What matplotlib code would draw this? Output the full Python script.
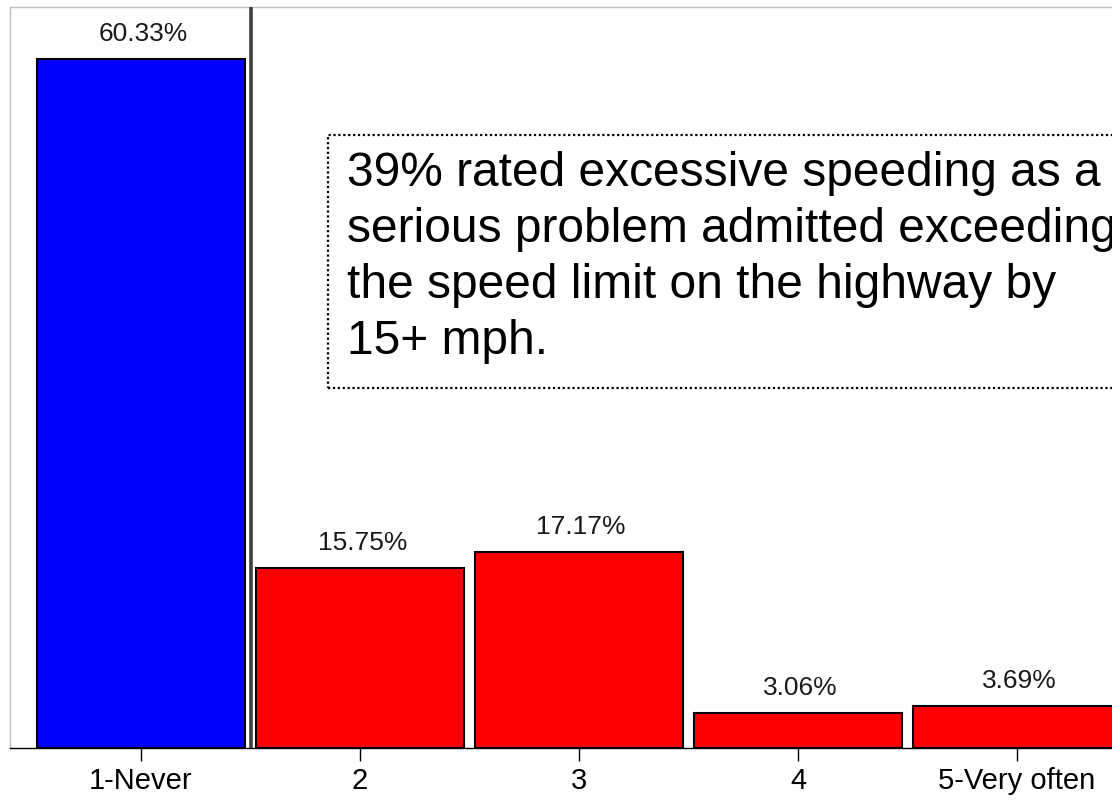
import matplotlib
matplotlib.use("Agg")
import matplotlib.pyplot as plt
from matplotlib.patches import Rectangle

categories = ["1-Never", "2", "3", "4", "5-Very often"]
values = [60.33, 15.75, 17.17, 3.06, 3.69]
colors = ["#0000ff", "#ff0000", "#ff0000", "#ff0000", "#ff0000"]
labels = ["60.33%", "15.75%", "17.17%", "3.06%", "3.69%"]
note_lines = ["39% rated excessive speeding as a",
              "serious problem admitted exceeding",
              "the speed limit on the highway by",
              "15+ mph."]

plt.rcParams['font.family'] = ['Liberation Sans', 'DejaVu Sans']

W, H = 1112, 801
fig = plt.figure(figsize=(W / 100, H / 100), dpi=100)
fig.patch.set_facecolor("white")

# axes: left at px 10, top at px 7, baseline at px 748
ax = fig.add_axes([10 / W, (H - 748) / H, 1 - 10 / W, (748 - 7) / H])

x = list(range(len(categories)))
ax.bar(x, values, width=0.95, color=colors, edgecolor="black", linewidth=1.5, zorder=2)

px_per_cat = 219.0
ax.set_xlim((10 - 141) / px_per_cat, (1112 - 141) / px_per_cat)
px_per_unit = 11.42
ax.set_ylim(0, (748 - 7) / px_per_unit)

for xi, v, lab in zip(x, values, labels):
    ax.text(xi + 0.01, v + 1.15, lab, ha="center", va="bottom", fontsize=19, color="#1a1a1a")

ax.axvline(0.5, color="#404040", linewidth=2.6, zorder=3)

ax.set_xticks(x)
ax.set_xticklabels(categories, fontsize=21)
ax.tick_params(axis="x", direction="out", length=9, width=1, pad=5, colors="black")
ax.set_yticks([])

for s in ["left", "top"]:
    ax.spines[s].set_color("#c0c0c0")
    ax.spines[s].set_linewidth(1)
ax.spines["right"].set_visible(False)
ax.spines["bottom"].set_color("black")
ax.spines["bottom"].set_linewidth(1)

# dotted note box
box = Rectangle((328 / W, (H - 388) / H), (1200 - 328) / W, (388 - 135) / H,
                transform=fig.transFigure, fill=False, edgecolor="black",
                linestyle=(0, (1, 1.2)), linewidth=1.6, zorder=5)
fig.patches.append(box)

line_baselines = [186, 242, 298, 354]
for ln, base in zip(note_lines, line_baselines):
    fig.text(347 / W, (H - base) / H, ln, ha="left", va="baseline", fontsize=34.5, color="black")

fig.savefig("out.png", dpi=100)
